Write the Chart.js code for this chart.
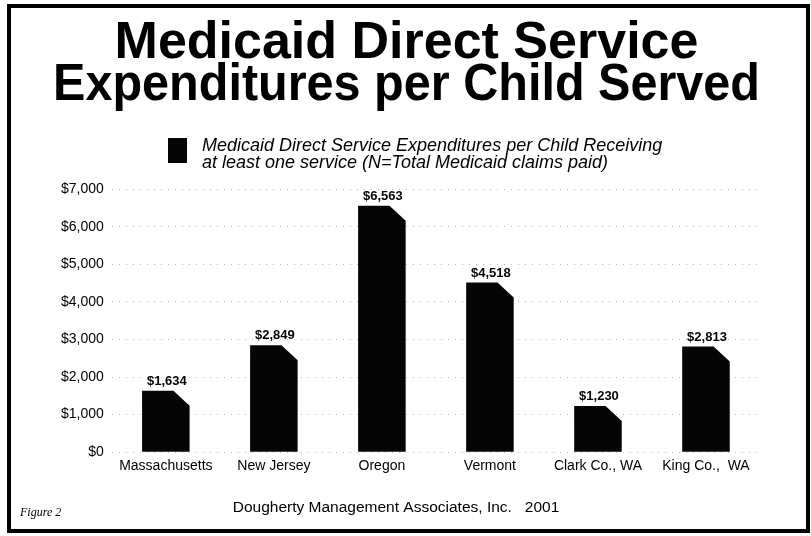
<!DOCTYPE html>
<html>
<head>
<meta charset="utf-8">
<script src="https://cdn.jsdelivr.net/npm/chart.js@4/dist/chart.umd.min.js"></script>
<style>
html,body{margin:0;padding:0;background:#fff;}
#wrap{width:811px;height:536px;position:relative;}
</style>
</head>
<body>
<div id="wrap"><canvas id="c" width="811" height="536"></canvas></div>
<script>
const titleLines = ["Medicaid Direct Service", "Expenditures per Child Served"];
const categories = ["Massachusetts", "New Jersey", "Oregon", "Vermont", "Clark Co., WA", "King Co.,  WA"];
const expenditures = [1634, 2849, 6563, 4518, 1230, 2813];
const seriesLabel = ["Medicaid Direct Service Expenditures per Child Receiving", "at least one service (N=Total Medicaid claims paid)"];
const yTicks = [0, 1000, 2000, 3000, 4000, 5000, 6000, 7000];
const footerText = "Dougherty Management Associates, Inc.   2001";
const figureText = "Figure 2";

const money = v => "$" + Number(v).toLocaleString("en-US");

const decorPlugin = {
  id: "decor",
  beforeDraw(chart) {
    const ctx = chart.ctx;
    ctx.save();
    ctx.fillStyle = "#fff";
    ctx.fillRect(0, 0, chart.width, chart.height);
    ctx.restore();
  },
  afterDatasetsDraw(chart) {
    const ctx = chart.ctx;
    const meta = chart.getDatasetMeta(0);
    ctx.save();
    ctx.fillStyle = "#050505";
    meta.data.forEach((bar, i) => {
      const p = bar.getProps(["x", "y", "base", "width"], true);
      const l = p.x - p.width / 2, r = p.x + p.width / 2;
      const top = p.y, base = p.base;
      const flat = l + p.width * 0.66;
      const drop = 15;
      ctx.beginPath();
      ctx.moveTo(l, base);
      ctx.lineTo(l, top);
      ctx.lineTo(flat, top);
      ctx.lineTo(r, top + drop);
      ctx.lineTo(r, base);
      ctx.closePath();
      ctx.fill();
      // value label
      ctx.font = "bold 13px 'Liberation Sans', Arial, sans-serif";
      ctx.textAlign = "center";
      ctx.textBaseline = "bottom";
      ctx.fillText(money(expenditures[i]), p.x + 1, top - 3);
    });
    ctx.restore();
  },
  afterDraw(chart) {
    const ctx = chart.ctx;
    ctx.save();
    // legend
    ctx.fillStyle = "#050505";
    ctx.fillRect(168, 138, 19, 25);
    ctx.fillStyle = "#000";
    ctx.font = "italic 18px 'Liberation Sans', Arial, sans-serif";
    ctx.textAlign = "left";
    ctx.textBaseline = "middle";
    ctx.fillText(seriesLabel[0], 202, 146);
    ctx.fillText(seriesLabel[1], 202, 163);
    // footer
    ctx.font = "15.5px 'Liberation Sans', Arial, sans-serif";
    ctx.textAlign = "center";
    ctx.fillText(footerText, 396, 508);
    ctx.font = "italic 12px 'Liberation Serif', 'Times New Roman', serif";
    ctx.textAlign = "left";
    ctx.fillText(figureText, 20, 513);
    // frame
    ctx.strokeStyle = "#000";
    ctx.lineWidth = 4;
    ctx.strokeRect(9, 6, 799, 525);
    ctx.restore();
  }
};

new Chart(document.getElementById("c"), {
  type: "bar",
  data: {
    labels: categories,
    datasets: [{
      label: seriesLabel.join(" "),
      data: expenditures,
      backgroundColor: "rgba(0,0,0,0)",
      borderWidth: 0,
      barPercentage: 0.44,
      categoryPercentage: 1.0
    }]
  },
  options: {
    responsive: false,
    animation: false,
    devicePixelRatio: 1,
    layout: { padding: { left: 53, right: 51, top: 22, bottom: 55 } },
    plugins: {
      legend: { display: false },
      tooltip: { enabled: false },
      title: {
        display: true,
        text: titleLines,
        color: "#000",
        font: { family: "'Liberation Sans', Arial, sans-serif", size: 52, weight: "bold", lineHeight: 0.82 },
        padding: { top: 0, bottom: 82 }
      }
    },
    scales: {
      x: {
        grid: { display: false, drawTicks: false },
        border: { display: false },
        ticks: { color: "#000", font: { family: "'Liberation Sans', Arial, sans-serif", size: 14 }, padding: 6, maxRotation: 0, autoSkip: false }
      },
      y: {
        min: 0, max: 7000,
        afterBuildTicks(axis) { axis.ticks = yTicks.map(v => ({ value: v })); },
        grid: { color: "#bbb", lineWidth: 1, drawTicks: false },
        border: { display: false, dash: [1, 6] },
        ticks: { color: "#000", font: { family: "'Liberation Sans', Arial, sans-serif", size: 14 }, padding: 8, callback: v => money(v) }
      }
    }
  },
  plugins: [decorPlugin]
});
</script>
</body>
</html>
